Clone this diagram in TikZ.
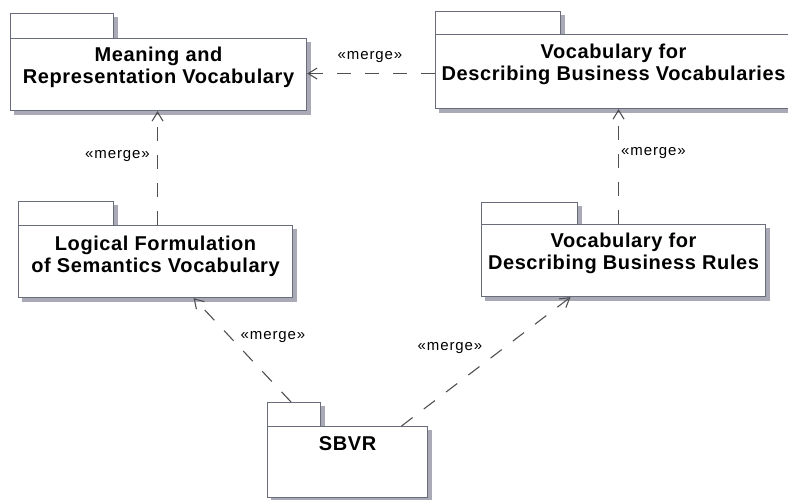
\documentclass[tikz,border=0pt]{standalone}
\usepackage{fontspec}
\setmainfont{Liberation Sans}
\newfontfamily\pkgfont[LetterSpace=3]{Liberation Sans}
\newfontfamily\lblfont[LetterSpace=6]{Liberation Sans}
\usetikzlibrary{arrows.meta,backgrounds}

\definecolor{pkgline}{RGB}{105,108,122}
\definecolor{pkgshadow}{RGB}{170,170,182}
\definecolor{depline}{RGB}{80,80,84}

\tikzset{
  pkgpart/.style={draw=pkgline, fill=white, line width=1.1pt, rectangle,
    inner sep=0pt, anchor=north west},
  pkgtext/.style={anchor=north, inner sep=0pt, align=center,
    font=\pkgfont\bfseries\fontsize{20pt}{22pt}\selectfont},
  merge/.style={draw=depline, line width=1.1pt, dash pattern=on 14pt off 14pt,
    -{Straight Barb[length=9pt,width=11pt,line width=1.1pt]}},
  mergelbl/.style={inner sep=0pt, font=\lblfont\fontsize{15pt}{17pt}\selectfont},
  shadowfill/.style={fill=pkgshadow}
}

\begin{document}
\begin{tikzpicture}[x=1pt,y=-1pt]
\useasboundingbox (0,0) rectangle (788,500);
\clip (0,0) rectangle (788,500);

% Meaning and Representation Vocabulary
\node[pkgpart, minimum width=103pt, minimum height=25pt] (t1) at (10,13) {};
\node[pkgpart, minimum width=296pt, minimum height=72pt] (b1) at (10,38) {};
\node[pkgtext] (n1) at ([yshift=-9pt]b1.north) {Meaning and\\Representation Vocabulary};

% Vocabulary for Describing Business Vocabularies
\node[pkgpart, minimum width=125pt, minimum height=23pt] (t2) at (435,11) {};
\node[pkgpart, minimum width=356pt, minimum height=74pt] (b2) at (435,34) {};
\node[pkgtext] (n2) at ([yshift=-10pt]b2.north) {Vocabulary for\\Describing Business Vocabularies};

% Logical Formulation of Semantics Vocabulary
\node[pkgpart, minimum width=95pt, minimum height=24pt] (t3) at (18,201) {};
\node[pkgpart, minimum width=274pt, minimum height=72pt] (b3) at (18,225) {};
\node[pkgtext] (n3) at ([yshift=-11pt]b3.north) {Logical Formulation\\of Semantics Vocabulary};

% Vocabulary for Describing Business Rules
\node[pkgpart, minimum width=96pt, minimum height=22pt] (t4) at (481,202) {};
\node[pkgpart, minimum width=284pt, minimum height=72pt] (b4) at (481,224) {};
\node[pkgtext] (n4) at ([yshift=-9pt]b4.north) {Vocabulary for\\Describing Business Rules};

% SBVR
\node[pkgpart, minimum width=53pt, minimum height=24pt] (t5) at (267,402) {};
\node[pkgpart, minimum width=160pt, minimum height=71pt] (b5) at (267,426) {};
\node[pkgtext] (n5) at ([yshift=-10pt]b5.north) {SBVR};

% drop shadows behind every package part
\begin{scope}[on background layer]
  \foreach \p in {t1,b1,t2,b2,t3,b3,t4,b4,t5,b5}
    \fill[shadowfill] ([shift={(4,4)}]\p.north west) rectangle ([shift={(4,4)}]\p.south east);
\end{scope}

% merge dependencies
\draw[merge] ([yshift=-2pt]b2.west) -- ([yshift=-2pt]b2.west -| b1.east);
\node[mergelbl] (m1) at (370,57) {«merge»};

\draw[merge] ([xshift=2pt]b3.north) -- ([xshift=2pt]b3.north |- b1.south);
\node[mergelbl, anchor=east] (m2) at (150,156) {«merge»};

\draw[merge] ([xshift=-5pt]b4.north) -- ([xshift=-5pt]b4.north |- b2.south);
\node[mergelbl, anchor=west] (m3) at (621,153) {«merge»};

\draw[merge] ([xshift=-3pt]t5.north) -- ([xshift=38pt]b3.south);
\node[mergelbl] (m4) at (273,337) {«merge»};

\draw[merge] ([xshift=54pt]b5.north) -- ([xshift=-53pt]b4.south);
\node[mergelbl] (m5) at (450,348) {«merge»};
\end{tikzpicture}
\end{document}
